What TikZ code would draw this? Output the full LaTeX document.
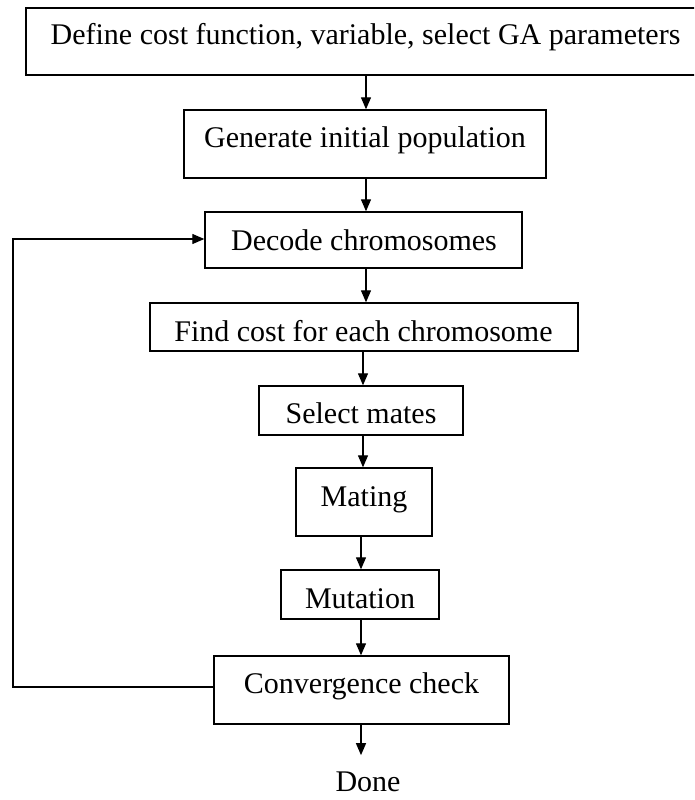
\documentclass[tikz,border=0pt]{standalone}
\usepackage{fontspec}
\setmainfont{Liberation Serif}
\usetikzlibrary{arrows.meta}
\begin{document}
\begin{tikzpicture}[x=1pt,y=-1pt,
  box/.style={draw=black, line width=1.4pt, rectangle, inner sep=0pt},
  txt/.style={inner sep=0pt, anchor=base, font=\fontsize{30}{36}\selectfont},
  arr/.style={draw=black, line width=1.3pt, -{Triangle[length=12pt,width=10pt]}}]
\clip (0,0) rectangle (694,800);
\fill[white] (0,0) rectangle (694,800);
% boxes
\node[box, minimum width=679pt, minimum height=67pt] (b1) at (365.5,41.5) {};
\node[box, minimum width=362pt, minimum height=68pt] (b2) at (365,144) {};
\node[box, minimum width=317pt, minimum height=56pt] (b3) at (363.5,240) {};
\node[box, minimum width=428pt, minimum height=48pt] (b4) at (364,327) {};
\node[box, minimum width=204pt, minimum height=49pt] (b5) at (361,410.5) {};
\node[box, minimum width=136pt, minimum height=68pt] (b6) at (364,502) {};
\node[box, minimum width=158pt, minimum height=49pt] (b7) at (360,594.5) {};
\node[box, minimum width=295pt, minimum height=68pt] (b8) at (361.5,690) {};
% texts
\node[txt] (t1) at (365.5,45) {Define cost function, variable, select GA parameters};
\node[txt] (t2) at (365,147) {Generate initial population};
\node[txt] (t3) at (364,250) {Decode chromosomes};
\node[txt] (t4) at (363.5,341) {Find cost for each chromosome};
\node[txt] (t5) at (361,423) {Select mates};
\node[txt] (t6) at (364,506) {Mating};
\node[txt] (t7) at (360,608) {Mutation};
\node[txt] (t8) at (361.5,693) {Convergence check};
\node[txt] (done) at (368,791) {Done};
% arrow columns
\coordinate (ca) at (366,0);
\coordinate (cb) at (363,0);
\coordinate (cc) at (361,0);
\coordinate (fb) at (13,0);
\draw[arr] (b1.south -| ca) -- (b2.north -| ca);
\draw[arr] (b2.south -| ca) -- (b3.north -| ca);
\draw[arr] (b3.south -| ca) -- (b4.north -| ca);
\draw[arr] (b4.south -| cb) -- (b5.north -| cb);
\draw[arr] (b5.south -| cb) -- (b6.north -| cb);
\draw[arr] (b6.south -| cc) -- (b7.north -| cc);
\draw[arr] (b7.south -| cc) -- (b8.north -| cc);
\coordinate (dtop) at ([yshift=16pt]done.north);
\draw[arr] (b8.south -| cc) -- (dtop -| cc);
% feedback loop
\coordinate (fbs) at ([yshift=3pt]b8.west);
\coordinate (fbe) at ([yshift=1pt]b3.west);
\draw[arr] (fbs) -- (fbs -| fb) -- (fbe -| fb) -- (fbe);
\end{tikzpicture}
\end{document}
